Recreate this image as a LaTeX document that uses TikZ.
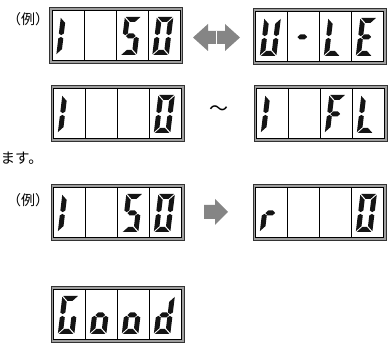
\documentclass[tikz,border=0pt]{standalone}
\usepackage{fontspec}
\newfontfamily\jpfont{Noto Sans CJK JP}
\tikzset{
  panelouter/.style={draw=black!80, line width=0.9pt, fill=black!38},
  panelinner/.style={draw=black, line width=0.7pt, fill=white},
  paneldiv/.style={draw=black, line width=0.7pt},
  segfill/.style={fill=black!92},
  grayarrow/.style={fill=black!48},
  jptext/.style={inner sep=0pt, font=\jpfont},
}
% segment geometry of one character (unslanted): width W, height H, thickness T, gap G
\def\W{16.5}\def\H{38}\def\T{5}\def\G{0.9}
% one 7-segment character in cell #1 (0..3); #2..#8 switch segments a b c d e f g
\newcommand\lcdchar[8]{%
  \begin{scope}[shift={({6.8+#1*32},8)}, xslant=0.12]
    \ifnum#2=1 \fill[segfill] (\G,\H) -- (\W-\G,\H) -- (\W-\T-\G,\H-\T) -- (\T+\G,\H-\T) -- cycle;\fi
    \ifnum#3=1 \fill[segfill] (\W,\H-\G) -- (\W-\T,\H-\T-\G) -- (\W-\T,\H/2+\T/2) -- (\W-\T/2,\H/2+\G) -- (\W,\H/2+\T/2) -- cycle;\fi
    \ifnum#4=1 \fill[segfill] (\W,\G) -- (\W-\T,\T+\G) -- (\W-\T,\H/2-\T/2) -- (\W-\T/2,\H/2-\G) -- (\W,\H/2-\T/2) -- cycle;\fi
    \ifnum#5=1 \fill[segfill] (\G,0) -- (\W-\G,0) -- (\W-\T-\G,\T) -- (\T+\G,\T) -- cycle;\fi
    \ifnum#6=1 \fill[segfill] (0,\G) -- (\T,\T+\G) -- (\T,\H/2-\T/2) -- (\T/2,\H/2-\G) -- (0,\H/2-\T/2) -- cycle;\fi
    \ifnum#7=1 \fill[segfill] (0,\H-\G) -- (\T,\H-\T-\G) -- (\T,\H/2+\T/2) -- (\T/2,\H/2+\G) -- (0,\H/2+\T/2) -- cycle;\fi
    \ifnum#8=1 \fill[segfill] (\T/2+\G,\H/2) -- (\T+\G,\H/2+\T/2) -- (\W-\T-\G,\H/2+\T/2) -- (\W-\T/2-\G,\H/2) -- (\W-\T-\G,\H/2-\T/2) -- (\T+\G,\H/2-\T/2) -- cycle;\fi
  \end{scope}}
% character set (segments a b c d e f g)
\newcommand\chOne[1]{\lcdchar{#1}0000110}
\newcommand\chFive[1]{\lcdchar{#1}1011011}
\newcommand\chZero[1]{\lcdchar{#1}1111110}
\newcommand\chU[1]{\lcdchar{#1}0111110}
\newcommand\chDash[1]{\lcdchar{#1}0000001}
\newcommand\chL[1]{\lcdchar{#1}0001110}
\newcommand\chE[1]{\lcdchar{#1}1001111}
\newcommand\chF[1]{\lcdchar{#1}1000111}
\newcommand\chR[1]{\lcdchar{#1}0000101}
\newcommand\chG[1]{\lcdchar{#1}1011110}
\newcommand\chO[1]{\lcdchar{#1}0011101}
\newcommand\chD[1]{\lcdchar{#1}0111101}
% four-cell display panel with lower left corner (#1,#2) and contents #3
\newcommand\lcdpanel[3]{%
  \begin{scope}[shift={(#1,#2)}]
    \path[panelouter] (0,0) rectangle (133,55.5);
    \path[panelinner] (2.5,2.5) rectangle (130.5,53);
    \foreach \k in {1,2,3} \draw[paneldiv] ({2.5+\k*32},2.5) -- ({2.5+\k*32},53);
    #3
  \end{scope}}
\begin{document}
\begin{tikzpicture}[x=1pt, y=1pt]
  \useasboundingbox (0,0) rectangle (388,344);
  \fill[white] (0,0) rectangle (388,344);

  % row 1: example value and limit message
  \node[jptext, font=\jpfont\fontsize{14}{14}\selectfont] (ex1) at (28,324.5) {（例）};
  \lcdpanel{49.5}{281}{\chOne{0}\chFive{2}\chZero{3}}
  \lcdpanel{253}{280}{\chU{0}\chDash{1}\chL{2}\chE{3}}
  \fill[grayarrow] (193,306.5) -- (208,320) -- (208,313) -- (225,313) -- (225,320)
    -- (240,306.5) -- (225,293) -- (225,300) -- (208,300) -- (208,293) -- cycle;
  \draw[white, line width=0.4pt] (216.5,300) -- (216.5,313);

  % row 2: range
  \lcdpanel{51}{203}{\chOne{0}\chZero{3}}
  \lcdpanel{254}{203}{\chOne{0}\chF{2}\chL{3}}
  \node[jptext, font=\jpfont\fontsize{19}{19}\selectfont] (tilde) at (218.5,233.5) {～};
  \node[jptext, anchor=west, font=\jpfont\fontsize{14.5}{14.5}\selectfont] (masu) at (0.5,185.5) {ます。};

  % row 3: example value and result
  \node[jptext, font=\jpfont\fontsize{14}{14}\selectfont] (ex2) at (28,144) {（例）};
  \lcdpanel{51}{104}{\chOne{0}\chFive{2}\chZero{3}}
  \lcdpanel{253}{104}{\chR{0}\chZero{3}}
  \fill[grayarrow] (204,139) -- (215,139) -- (215,145) -- (228,132) -- (215,119)
    -- (215,125) -- (204,125) -- cycle;

  % row 4
  \lcdpanel{51}{2}{\chG{0}\chO{1}\chO{2}\chD{3}}
\end{tikzpicture}
\end{document}
